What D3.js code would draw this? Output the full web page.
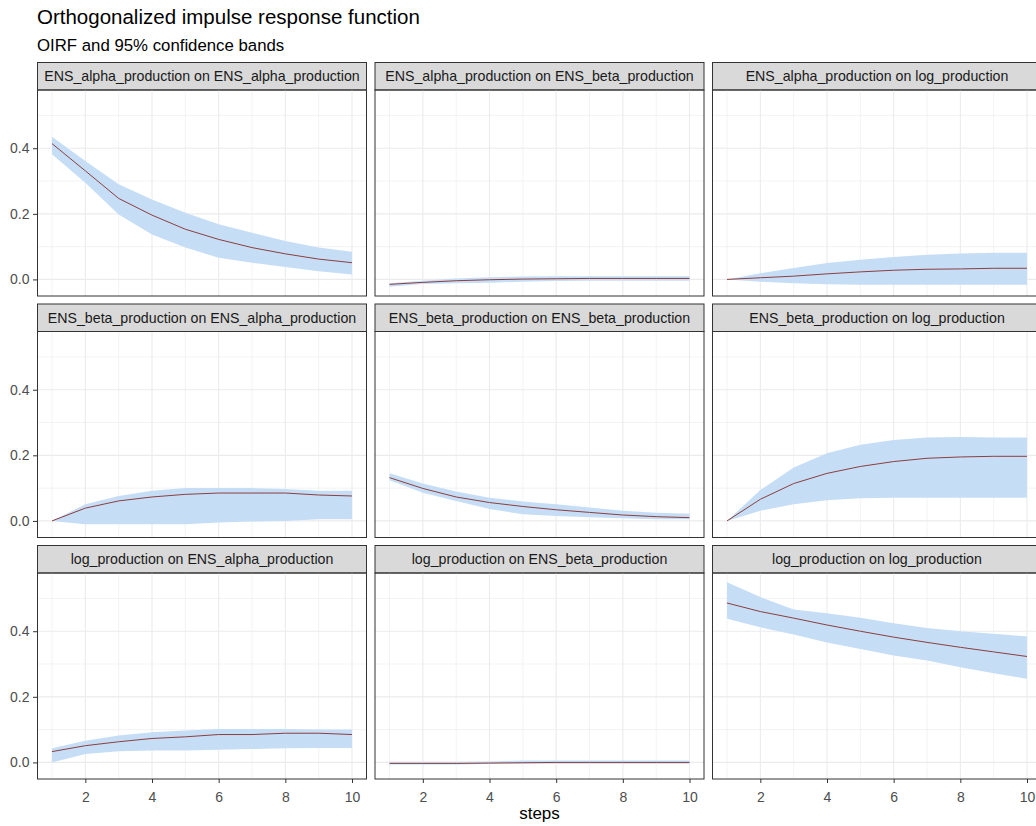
<!DOCTYPE html>
<html>
<head>
<meta charset="utf-8">
<script src="https://cdn.jsdelivr.net/npm/d3@7"></script>
<style>
	body { margin: 0; background: #fff; }
	svg { font-family: "Liberation Sans", Arial, sans-serif; display: block; }
</style>
</head>
<body>
<script>
"use strict";

// Variables of the VAR model
var impulses = ["ENS_alpha_production", "ENS_beta_production", "log_production"];
var responses = ["ENS_alpha_production", "ENS_beta_production", "log_production"];

var steps = [1, 2, 3, 4, 5, 6, 7, 8, 9, 10];
var xTicks = [2, 4, 6, 8, 10];
var yTicks = [0, 0.2, 0.4];

// OIRF, lower and upper band, row = impulse, column = response
var irf_aa = [0.414, 0.331, 0.247, 0.196, 0.153, 0.122, 0.097, 0.078, 0.062, 0.051];
var lo_aa  = [0.382, 0.295, 0.198, 0.137, 0.097, 0.066, 0.051, 0.038, 0.025, 0.015];
var hi_aa  = [0.435, 0.361, 0.290, 0.244, 0.203, 0.168, 0.142, 0.117, 0.097, 0.084];

var irf_ab = [-0.015, -0.009, -0.004, -0.001, 0.001, 0.002, 0.003, 0.003, 0.003, 0.003];
var lo_ab  = [-0.022, -0.014, -0.012, -0.010, -0.007, -0.005, -0.004, -0.004, -0.004, -0.004];
var hi_ab  = [-0.012, -0.004, 0.003, 0.007, 0.009, 0.010, 0.010, 0.010, 0.010, 0.010];

var irf_al = [0.000, 0.005, 0.010, 0.017, 0.023, 0.028, 0.031, 0.032, 0.034, 0.034];
var lo_al  = [0.000, -0.007, -0.012, -0.015, -0.016, -0.016, -0.016, -0.016, -0.016, -0.016];
var hi_al  = [0.000, 0.019, 0.035, 0.050, 0.060, 0.068, 0.075, 0.079, 0.081, 0.081];

var irf_ba = [0.000, 0.039, 0.061, 0.073, 0.081, 0.085, 0.085, 0.085, 0.079, 0.076];
var lo_ba  = [0.000, -0.010, -0.010, -0.010, -0.010, -0.005, -0.002, 0.000, 0.005, 0.005];
var hi_ba  = [0.000, 0.051, 0.076, 0.092, 0.100, 0.100, 0.100, 0.097, 0.092, 0.092];

var irf_bb = [0.132, 0.099, 0.073, 0.056, 0.044, 0.034, 0.026, 0.018, 0.013, 0.010];
var lo_bb  = [0.124, 0.086, 0.061, 0.036, 0.020, 0.015, 0.011, 0.008, 0.005, 0.005];
var hi_bb  = [0.145, 0.114, 0.090, 0.071, 0.059, 0.051, 0.041, 0.031, 0.025, 0.022];

var irf_bl = [0.000, 0.066, 0.114, 0.145, 0.166, 0.181, 0.191, 0.195, 0.197, 0.197];
var lo_bl  = [0.000, 0.031, 0.051, 0.063, 0.069, 0.071, 0.071, 0.071, 0.071, 0.071];
var hi_bl  = [0.000, 0.094, 0.163, 0.206, 0.232, 0.247, 0.254, 0.256, 0.254, 0.254];

var irf_la = [0.033, 0.051, 0.063, 0.073, 0.078, 0.085, 0.085, 0.089, 0.089, 0.085];
var lo_la  = [0.000, 0.026, 0.034, 0.036, 0.036, 0.039, 0.041, 0.043, 0.044, 0.044];
var hi_la  = [0.043, 0.066, 0.082, 0.092, 0.097, 0.102, 0.102, 0.102, 0.100, 0.100];

var irf_lb = [-0.003, -0.003, -0.003, -0.002, -0.001, 0.000, 0.000, 0.000, 0.000, 0.000];
var lo_lb  = [-0.006, -0.006, -0.006, -0.005, -0.004, -0.004, -0.004, -0.004, -0.004, -0.004];
var hi_lb  = [0.002, 0.002, 0.002, 0.003, 0.006, 0.006, 0.006, 0.006, 0.006, 0.006];

var irf_ll = [0.486, 0.460, 0.440, 0.419, 0.400, 0.382, 0.366, 0.351, 0.337, 0.323];
var lo_ll  = [0.438, 0.412, 0.390, 0.366, 0.346, 0.326, 0.311, 0.290, 0.272, 0.255];
var hi_ll  = [0.549, 0.504, 0.466, 0.455, 0.441, 0.424, 0.410, 0.400, 0.392, 0.384];

var panelIrf = [[irf_aa, irf_ab, irf_al], [irf_ba, irf_bb, irf_bl], [irf_la, irf_lb, irf_ll]];
var panelLo  = [[lo_aa, lo_ab, lo_al], [lo_ba, lo_bb, lo_bl], [lo_la, lo_lb, lo_ll]];
var panelHi  = [[hi_aa, hi_ab, hi_al], [hi_ba, hi_bb, hi_bl], [hi_la, hi_lb, hi_ll]];

// Geometry of the facet grid
var W = 1036, H = 826;
var grid = {l: 37, t: 62, pw: 330, ph: 206, strip: 27.5, gapX: 7.5, gapY: 8};
var tickFont = "14px";

var svg = d3.select("body").append("svg").attr("width", W).attr("height", H);

svg.append("text").attr("x", grid.l).attr("y", 24).
	style("font-size", "20.5px").attr("fill", "#000").
	text("Orthogonalized impulse response function");
svg.append("text").attr("x", grid.l).attr("y", 50.5).
	style("font-size", "16.8px").attr("fill", "#000").
	text("OIRF and 95% confidence bands");

// Fixed scales shared by all panels (ggplot style 5% expansion)
function expand(ext) {
	var d = (ext[1] - ext[0]) * 0.05;
	return [ext[0] - d, ext[1] + d];
}
var allLo = d3.merge(d3.merge(panelLo)), allHi = d3.merge(d3.merge(panelHi));
var x = d3.scaleLinear().domain(expand(d3.extent(steps))).range([0, grid.pw]);
var y = d3.scaleLinear().domain(expand([d3.min(allLo), d3.max(allHi)])).range([grid.ph, 0]);

var xMinor = [1, 3, 5, 7, 9];
var yMinor = [0.1, 0.3, 0.5];

var area = d3.area().x(function(d, i) { return x(steps[i]); }).
	y0(function(d) { return d[0]; }).y1(function(d) { return d[1]; });
var line = d3.line().x(function(d, i) { return x(steps[i]); }).y(function(d) { return y(d); });

function styleAxis(a) {
	a.select(".domain").remove();
	a.selectAll("line").attr("stroke", "#333");
	a.selectAll("text").attr("fill", "#4d4d4d").style("font-size", tickFont).
		style("font-family", "'Liberation Sans', Arial, sans-serif");
}

for (var r = 0; r < 3; r++) {
	for (var c = 0; c < 3; c++) {
		var px = grid.l + c * (grid.pw + grid.gapX);
		var py = grid.t + r * (grid.strip + grid.ph + grid.gapY);
		var g = svg.append("g").attr("transform", "translate(" + px + "," + py + ")");

		// Strip
		g.append("rect").attr("x", 0.5).attr("y", 0.5).attr("width", grid.pw - 1).attr("height", grid.strip).
			attr("fill", "#d9d9d9").attr("stroke", "#333").attr("stroke-width", 1);
		g.append("text").attr("x", grid.pw / 2).attr("y", grid.strip / 2 + 5.3).
			attr("text-anchor", "middle").style("font-size", "14.2px").attr("fill", "#1a1a1a").
			text(impulses[r] + " on " + responses[c]);

		var p = g.append("g").attr("transform", "translate(0," + (grid.strip + 0.5) + ")");

		// Grid lines
		p.selectAll(".vmin").data(xMinor).enter().append("line").
			attr("x1", x).attr("x2", x).attr("y1", 0).attr("y2", grid.ph).
			attr("stroke", "#ebebeb").attr("stroke-width", 0.6);
		p.selectAll(".hmin").data(yMinor).enter().append("line").
			attr("y1", y).attr("y2", y).attr("x1", 0).attr("x2", grid.pw).
			attr("stroke", "#ebebeb").attr("stroke-width", 0.6);
		p.selectAll(".vmaj").data(xTicks).enter().append("line").
			attr("x1", x).attr("x2", x).attr("y1", 0).attr("y2", grid.ph).
			attr("stroke", "#ebebeb").attr("stroke-width", 1.1);
		p.selectAll(".hmaj").data(yTicks).enter().append("line").
			attr("y1", y).attr("y2", y).attr("x1", 0).attr("x2", grid.pw).
			attr("stroke", "#ebebeb").attr("stroke-width", 1.1);

		// Confidence band and OIRF
		var band = panelLo[r][c].map(function(v, i) { return [y(v), y(panelHi[r][c][i])]; });
		p.append("path").attr("d", area(band)).attr("fill", "#c6ddf6");
		p.append("path").attr("d", line(panelIrf[r][c])).attr("fill", "none").
			attr("stroke", "#8b3f3f").attr("stroke-width", 1);

		// Border
		p.append("rect").attr("x", 0.5).attr("y", 0).attr("width", grid.pw - 1).attr("height", grid.ph).
			attr("fill", "none").attr("stroke", "#333").attr("stroke-width", 1);

		if (c === 0) {
			styleAxis(p.append("g").call(d3.axisLeft(y).tickValues(yTicks).
				tickFormat(d3.format(".1f")).tickSizeOuter(0).tickSizeInner(4).tickPadding(3.5)));
		}
		if (r === 2) {
			styleAxis(p.append("g").attr("transform", "translate(0," + grid.ph + ")").
				call(d3.axisBottom(x).tickValues(xTicks).tickSizeOuter(0).tickSizeInner(4).tickPadding(9)));
		}
	}
}

// Axis title, centred under the whole grid
svg.append("text").attr("x", grid.l + (3 * grid.pw + 2 * grid.gapX) / 2).attr("y", 818.5).
	attr("text-anchor", "middle").style("font-size", "17px").attr("fill", "#000").text("steps");
</script>
</body>
</html>
